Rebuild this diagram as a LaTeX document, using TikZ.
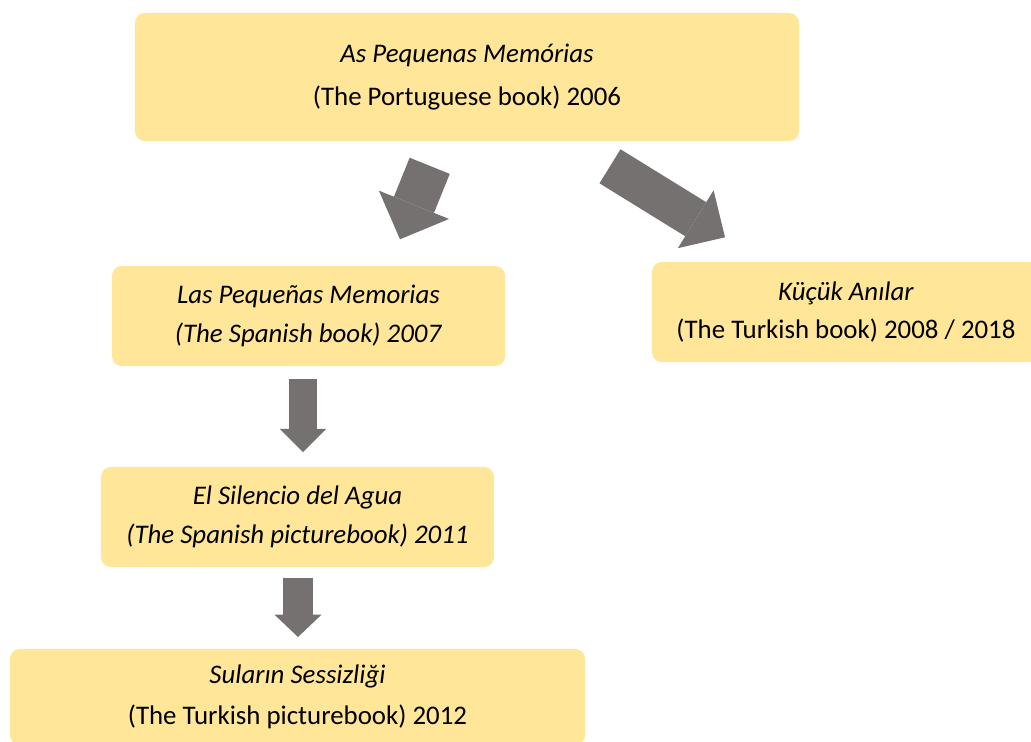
\documentclass[tikz,border=0pt]{standalone}
\usepackage{fontspec}
\setmainfont{Carlito}
\usetikzlibrary{arrows.meta}
\definecolor{bookgold}{RGB}{255, 230, 153}
\definecolor{arrowgrey}{RGB}{118, 113, 113}

\tikzset{
  book/.style={rectangle, rounded corners=0.25cm, fill=bookgold, align=center,
    inner sep=0pt, font=\fontsize{19.1}{27.5}\selectfont},
  blockarrow/.style n args={3}{draw=arrowgrey, line width=#1,
    -{Triangle[width=#2, length=#3, line width=0pt 0 0]}},
}

\begin{document}
\begin{tikzpicture}[x=0.025cm, y=-0.025cm]
  \useasboundingbox (0,0) rectangle (1031,742);

  % ===== books =====
  \node[book, minimum width=16.6cm, minimum height=3.2cm,
        font=\fontsize{19.1}{30.5}\selectfont]
    (orig) at (467,77) {\textit{As Pequenas Memórias}\\(The Portuguese book) 2006};

  \node[book, minimum width=9.825cm, minimum height=2.5cm]
    (spanish) at (308.5,316) {\textit{Las Pequeñas Memorias}\\\textit{(The Spanish book) 2007}};

  \node[book, minimum width=9.7cm, minimum height=2.5cm]
    (turkish) at (846,312) {\textit{Küçük Anılar}\\(The Turkish book) 2008 / 2018};

  \node[book, minimum width=9.825cm, minimum height=2.5cm]
    (silencio) at (297.5,517) {\textit{El Silencio del Agua}\\\textit{(The Spanish picturebook) 2011}};

  \node[book, minimum width=14.375cm, minimum height=2.4cm,
        font=\fontsize{19.1}{29}\selectfont]
    (sularin) at (297.5,697) {\textit{Suların Sessizliği}\\(The Turkish picturebook) 2012};

  % ===== arrow ends =====
  \coordinate (a1s) at (429.7,165.8);
  \coordinate (a1e) at (400,239.3);
  \coordinate (a2s) at (610,166.3);
  \coordinate (a2e) at (725,237.3);
  \coordinate (a3s) at (303,379);
  \coordinate (a3e) at (303,452);
  \coordinate (a4s) at (298,578);
  \coordinate (a4e) at (298,637);

  \draw[blockarrow={1.08cm}{1.89cm}{0.93cm}] (a1s) -- (a1e);
  \draw[blockarrow={1.0cm}{1.7cm}{0.86cm}] (a2s) -- (a2e);
  \draw[blockarrow={0.7cm}{1.17cm}{0.58cm}] (a3s) -- (a3e);
  \draw[blockarrow={0.73cm}{1.18cm}{0.56cm}] (a4s) -- (a4e);

\end{tikzpicture}
\end{document}
